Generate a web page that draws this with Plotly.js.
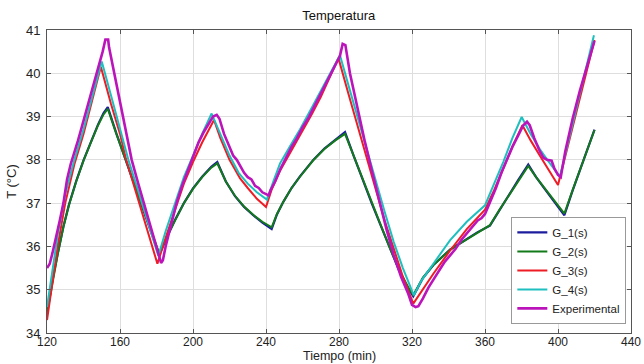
<!DOCTYPE html>
<html>
<head>
<meta charset="utf-8">
<script src="https://cdn.plot.ly/plotly-3.0.1.min.js"></script>
<style>html,body{margin:0;padding:0;background:#fff;}#chart{width:644px;height:364px;}</style>
</head>
<body>
<div id="chart"></div>
<script>
// ---- data ----
const seriesNames = ["G_1(s)", "G_2(s)", "G_3(s)", "G_4(s)", "Experimental"];

const g2Time = [120,123,126,129,132,136,140,144,148,151,153.3,158,163,168,173,178,181.5,186,190,195,200,205,210,213.3,218,223,228,233,238,243.1,246,249.5,254,258.6,265.9,272,278,283.3,288,293,298,303,308,313,318,320.7,326,331.7,341,350,356,362.7,368,373,378,383.7,388,393,398,403.5,408,413,418,420];
const g2Temp = [34.45,35.2,35.85,36.45,36.95,37.5,37.98,38.4,38.8,39.05,39.18,38.6,38.02,37.43,36.85,36.25,35.84,36.25,36.6,37.0,37.33,37.6,37.82,37.92,37.5,37.17,36.92,36.73,36.57,36.44,36.75,37.03,37.35,37.61,37.99,38.25,38.45,38.6,38.1,37.55,37.0,36.48,35.95,35.45,35.05,34.88,35.28,35.57,35.93,36.17,36.33,36.49,36.85,37.18,37.5,37.86,37.6,37.32,37.04,36.76,37.3,37.88,38.45,38.69];

const g1Time = [120,123,126,129,132,136,140,144,148,151,153.3,158,163,168,173,178,181.5,186,190,195,200,205,210,213.3,218,223,228,233,238,243.1,246,249.5,254,258.6,265.9,272,278,283.3,288,293,298,303,308,313,318,320.7,326,331.7,341,350,356,362.7,368,373,378,383.7,388,393,398,403.5,408,413,418,420];
const g1Temp = [34.47,35.22,35.86,36.46,36.96,37.51,37.99,38.41,38.82,39.08,39.22,38.61,38.02,37.43,36.84,36.23,35.80,36.24,36.6,37.0,37.34,37.61,37.84,37.95,37.5,37.16,36.91,36.72,36.55,36.40,36.74,37.03,37.35,37.62,38.0,38.26,38.47,38.64,38.1,37.54,36.99,36.47,35.94,35.44,35.03,34.85,35.27,35.57,35.93,36.17,36.33,36.48,36.85,37.19,37.52,37.89,37.6,37.31,37.02,36.72,37.29,37.88,38.45,38.7];

const g3Time = [120,123,126,130,135,140,145,149.5,155,160,163.4,170,175,180.5,185,190,195,200,205,211.5,215,220,225.8,230,235,240,243,247.7,253,258.6,265,270,275,279.7,285,290,295,300,305,310,315,320.7,325,331.7,340.8,350,360,365,370,375,380.5,385,390,395,400,405,410,415,420];
const g3Temp = [34.3,35.2,36.05,37.0,37.9,38.6,39.4,40.15,39.3,38.6,38.0,37.05,36.33,35.6,36.2,36.85,37.45,37.95,38.4,38.92,38.5,38.0,37.57,37.35,37.1,36.91,37.3,37.75,38.15,38.55,39.05,39.45,39.9,40.35,39.55,38.8,38.05,37.3,36.6,35.95,35.3,34.68,34.95,35.37,35.9,36.4,36.85,37.3,37.8,38.3,38.8,38.45,38.1,37.75,37.42,38.25,39.1,39.95,40.77];

const g4Time = [120,123,126,130,135,140,145,150,155,160,164.6,170,175,181,185,190,195,200,205,210.2,215,220,225,230,235,240.5,244,247.7,253,258.6,265,270,275,280.5,285,290,295,300,305,310,315,321,325,331.7,340.8,350,360,365,370,375,380.1,385,390,395,401,405,410,415,419.7];
const g4Temp = [34.6,35.5,36.3,37.2,38.0,38.7,39.5,40.27,39.5,38.73,38.0,37.28,36.6,35.78,36.35,37.0,37.6,38.1,38.6,39.07,38.6,38.1,37.7,37.45,37.25,37.08,37.5,37.92,38.3,38.7,39.2,39.6,40.0,40.42,39.75,39.0,38.25,37.5,36.8,36.1,35.5,34.87,35.2,35.6,36.14,36.57,36.95,37.45,37.95,38.5,38.99,38.6,38.25,37.95,37.61,38.3,39.2,40.05,40.88];

const expTime = [120,121.5,123,125,127,129,131,133,135,137,139,141,143,145,147,149,150.5,152,153.5,154,157,160,163,166.4,170,174,178,181,182.5,183.5,185,188,191,194,197,200,203,206,209,211,213,214.5,217,220,222,224,226,228,230,232,234,236,238,240,241.5,242.5,245,248,251,254,257,260,263,266,269,272,275,278,280.5,282,283.5,286,290,294,298,302,306,310,314,318,320,322,323.5,326,329,332,335,338,341,344,347,350,353,356,358,360,363,366,369,372,375,378,381,383,384.5,387,390,392,394,396.5,398,400,401.5,404,408,412,416,420];
const expTemp = [35.5,35.6,35.85,36.2,36.6,37.0,37.55,37.9,38.15,38.45,38.75,39.05,39.35,39.65,39.95,40.25,40.5,40.78,40.78,40.6,39.95,39.35,38.7,38.0,37.45,36.85,36.27,35.8,35.62,35.68,36.0,36.5,37.0,37.4,37.75,38.1,38.4,38.65,38.85,39.0,39.04,38.95,38.6,38.3,38.1,38.0,37.85,37.7,37.6,37.55,37.4,37.35,37.25,37.2,37.18,37.3,37.5,37.8,38.05,38.3,38.5,38.75,38.95,39.2,39.45,39.7,39.95,40.2,40.4,40.68,40.65,40.0,39.2,38.45,37.75,37.05,36.4,35.8,35.3,34.9,34.65,34.6,34.62,34.8,35.05,35.25,35.45,35.65,35.8,35.95,36.15,36.3,36.45,36.6,36.65,36.75,37.05,37.35,37.7,38.0,38.3,38.55,38.8,38.88,38.8,38.5,38.2,38.05,38.0,37.98,37.8,37.65,37.6,38.2,38.95,39.6,40.2,40.75];

const xTickVals = [120,160,200,240,280,320,360,400,440];
const yTickVals = [34,35,36,37,38,39,40,41];
const xTitle = "Tiempo (min)";

// ---- styles ----
const colors = ["#1c1c9e", "#137a1a", "#ee1c25", "#1fbfbf", "#bb14bb"];
const widths = [2.2, 2, 2, 2, 2.6];
const xs = [g1Time, g2Time, g3Time, g4Time, expTime];
const ys = [g1Temp, g2Temp, g3Temp, g4Temp, expTemp];

const traces = seriesNames.map((n, i) => ({
  type: "scatter", mode: "lines", name: n,
  x: xs[i], y: ys[i],
  line: {color: colors[i], width: widths[i]}
}));

const font = {family: "Liberation Sans, Arial, sans-serif", size: 12, color: "#222"};
const layout = {
  width: 644, height: 364,
  margin: {l: 47, r: 13, t: 30, b: 31},
  paper_bgcolor: "#fff", plot_bgcolor: "#fff",
  font: font,
  showlegend: true,
  title: {text: "Temperatura", x: 0.526, xref: "container", y: 0.958, yanchor: "middle", font: {family: font.family, size: 13, color: "#111"}},
  xaxis: {
    range: [120, 440], tickvals: xTickVals, ticktext: xTickVals.map(String),
    showgrid: true, gridcolor: "#dedede", gridwidth: 1,
    showline: true, linecolor: "#555", linewidth: 1, mirror: "ticks",
    ticks: "inside", ticklen: 4, tickcolor: "#555",
    zeroline: false, automargin: false, ticklabelstandoff: -2,
    tickfont: {family: font.family, size: 12, color: "#222"}
  },
  yaxis: {
    range: [34, 41], tickvals: yTickVals, ticktext: yTickVals.map(String),
    showgrid: true, gridcolor: "#dedede", gridwidth: 1,
    showline: true, linecolor: "#555", linewidth: 1, mirror: "ticks",
    ticks: "inside", ticklen: 4, tickcolor: "#555",
    zeroline: false, automargin: false, ticklabelstandoff: 3,
    tickfont: {family: font.family, size: 13, color: "#222"},
    title: {text: "T (°C)", standoff: 6, font: {family: font.family, size: 13, color: "#222"}}
  },
  annotations: [{
    text: xTitle, xref: "paper", yref: "paper", x: 0.5, y: -0.076,
    xanchor: "center", yanchor: "middle", showarrow: false,
    font: {family: font.family, size: 12.5, color: "#222"}
  }],
  legend: {
    x: 0.992, xanchor: "right", y: 0.03, yanchor: "bottom",
    bgcolor: "#fff", bordercolor: "#999", borderwidth: 1,
    font: {family: font.family, size: 11.5, color: "#222"},
    tracegroupgap: 0, itemwidth: 30
  }
};

Plotly.newPlot("chart", traces, layout, {staticPlot: true, displayModeBar: false});
</script>
</body>
</html>
